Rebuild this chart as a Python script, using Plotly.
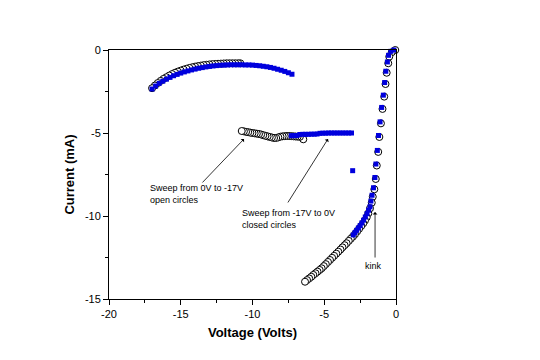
import plotly.graph_objects as go

# ---- Sweep from 0V to -17V (open circles) ----
open_x = [
    -0.05, -0.30, -0.47, -0.54, -0.65, -0.73, -0.82, -0.94, -1.05, -1.16, -1.24, -1.34,
    -1.41, -1.51, -1.62, -1.69, -1.81, -1.93, -2.04, -2.16, -2.28, -2.42, -2.57, -2.71,
    -2.86, -3.00, -3.15, -3.29, -3.44, -3.58, -3.73, -3.87, -4.02, -4.16, -4.31, -4.45,
    -4.60, -4.74, -4.89, -5.03, -5.18, -5.32, -5.47, -5.61, -5.76, -5.90, -6.05, -6.20,
    -6.34,
    -6.46, -6.70, -6.85, -7.00, -7.15, -7.30, -7.45, -7.60, -7.75, -7.90, -8.05, -8.20,
    -8.35, -8.50, -8.65, -8.80, -8.95, -9.10, -9.25, -9.40, -9.55, -9.70, -9.85, -10.00,
    -10.15, -10.30, -10.45, -10.60, -10.75,
    -10.85, -11.00, -11.20, -11.40, -11.60, -11.80, -12.00, -12.20, -12.40, -12.60, -12.80,
    -13.00, -13.20, -13.40, -13.60, -13.80, -14.00, -14.20, -14.40, -14.60, -14.80, -15.00,
    -15.20, -15.40, -15.60, -15.80, -16.00, -16.20, -16.40, -16.60, -16.80, -17.00,
]
open_y = [
    0.00, -0.14, -0.40, -0.80, -1.37, -2.05, -2.81, -3.55, -4.42, -5.24, -6.14, -6.96,
    -7.77, -8.39, -8.84, -9.20, -9.54, -9.84, -10.08, -10.27, -10.44, -10.60, -10.77, -10.93,
    -11.10, -11.24, -11.37, -11.50, -11.64, -11.76, -11.89, -12.02, -12.15, -12.27, -12.40, -12.52,
    -12.65, -12.77, -12.90, -13.02, -13.15, -13.25, -13.35, -13.45, -13.55, -13.66, -13.76, -13.86,
    -13.96,
    -5.38, -5.23, -5.22, -5.21, -5.20, -5.19, -5.18, -5.18, -5.19, -5.20, -5.22, -5.26,
    -5.30, -5.30, -5.27, -5.24, -5.20, -5.17, -5.13, -5.09, -5.06, -5.04, -5.02, -5.00,
    -4.98, -4.95, -4.93, -4.90, -4.88,
    -0.80, -0.80, -0.80, -0.80, -0.80, -0.80, -0.81, -0.82, -0.83, -0.84, -0.85,
    -0.87, -0.89, -0.91, -0.94, -0.97, -1.00, -1.04, -1.08, -1.13, -1.18, -1.24,
    -1.30, -1.37, -1.45, -1.54, -1.64, -1.74, -1.86, -1.99, -2.14, -2.30,
]

# ---- Sweep from -17V to 0V (closed circles) ----
closed_x = [
    -17.00, -16.75, -16.50, -16.25, -16.00, -15.75, -15.50, -15.25, -15.00, -14.75,
    -14.50, -14.25, -14.00, -13.75, -13.50, -13.25, -13.00, -12.75, -12.50, -12.25,
    -12.00, -11.75, -11.50, -11.25, -11.00, -10.75, -10.50, -10.25, -10.00, -9.75,
    -9.50, -9.25, -9.00, -8.75, -8.50, -8.25, -8.00, -7.75, -7.50, -7.25,
    -7.30, -7.10, -6.90, -6.70, -6.50, -6.30, -6.10, -5.90, -5.70, -5.50, -5.30,
    -5.10, -4.90, -4.70, -4.50, -4.30, -4.10, -3.90, -3.70, -3.50, -3.30, -3.10,
    -3.02,
    -2.98, -2.86, -2.74, -2.62, -2.50, -2.38, -2.26, -2.14, -2.02, -1.91, -1.81,
    -1.75, -1.67, -1.57, -1.47, -1.40, -1.30, -1.22, -1.11, -1.00, -0.88, -0.79,
    -0.71, -0.60, -0.52, -0.36, -0.15,
]
closed_y = [
    -2.35, -2.17, -2.01, -1.88, -1.76, -1.65, -1.55, -1.47, -1.39, -1.32,
    -1.26, -1.20, -1.15, -1.10, -1.06, -1.02, -0.99, -0.96, -0.94, -0.92,
    -0.91, -0.90, -0.89, -0.89, -0.89, -0.89, -0.90, -0.90, -0.91, -0.93,
    -0.95, -0.98, -1.01, -1.05, -1.10, -1.16, -1.22, -1.29, -1.37, -1.46,
    -5.16, -5.16, -5.15, -5.09, -5.08, -5.08, -5.08, -5.07, -5.07, -5.06, -5.02,
    -5.01, -5.01, -5.00, -5.00, -5.00, -5.00, -5.00, -5.00, -5.00, -5.00, -5.00,
    -7.27,
    -11.14, -11.00, -10.86, -10.72, -10.58, -10.42, -10.25, -10.06, -9.86, -9.65, -9.44,
    -9.10, -8.75, -8.30, -7.68, -6.87, -6.05, -5.15, -4.33, -3.46, -2.72, -1.96,
    -1.28, -0.72, -0.32, -0.08, 0.00,
]

x_ticks = [-20, -15, -10, -5, 0]
y_ticks = [0, -5, -10, -15]

FONT = "Liberation Sans, Arial, sans-serif"
BLUE = "#0000dd"

fig = go.Figure()
fig.add_trace(go.Scatter(
    x=open_x, y=open_y, mode="markers", cliponaxis=False,
    marker=dict(symbol="circle", size=7, color="white", line=dict(color="black", width=1)),
    showlegend=False,
))
fig.add_trace(go.Scatter(
    x=closed_x, y=closed_y, mode="markers", cliponaxis=False,
    marker=dict(symbol="square", size=5, color=BLUE, line=dict(width=0)),
    showlegend=False,
))

arrow_style = dict(showarrow=True, arrowhead=1, arrowsize=1, arrowwidth=0.8,
                   arrowcolor="black", text="", standoff=0)
fig.add_annotation(x=-10.59, y=-5.36, ax=-43, ay=45, **arrow_style)
fig.add_annotation(x=-4.74, y=-5.36, ax=-41, ay=65, **arrow_style)
fig.add_annotation(x=-1.46, y=-9.76, ax=0, ay=47, **arrow_style)

text_font = dict(family=FONT, size=9, color="black")
fig.add_annotation(x=-17.28, y=-8.7, text="Sweep from 0V to -17V<br>open circles",
                   showarrow=False, xanchor="left", yanchor="middle", align="left", font=text_font)
fig.add_annotation(x=-10.87, y=-10.21, text="Sweep from -17V to 0V<br>closed circles",
                   showarrow=False, xanchor="left", yanchor="middle", align="left", font=text_font)
fig.add_annotation(x=-1.55, y=-13.01, text="kink",
                   showarrow=False, xanchor="center", yanchor="middle", font=text_font)

axis_common = dict(
    showline=True, linecolor="black", linewidth=1, mirror=True,
    ticks="outside", ticklen=5, tickwidth=1, tickcolor="black",
    showgrid=False, zeroline=False,
    tickfont=dict(family=FONT, size=11, color="black"),
)
fig.update_xaxes(
    range=[-20, 0], tickvals=x_ticks, ticktext=[str(v) for v in x_ticks],
    minor=dict(ticks="outside", ticklen=3, dtick=2.5, tick0=0, tickcolor="black", showgrid=False),
    title=dict(text="<b>Voltage (Volts)</b>", font=dict(family=FONT, size=13, color="black"), standoff=8),
    **axis_common,
)
fig.update_yaxes(
    range=[-15, 0], tickvals=y_ticks, ticktext=[str(v) for v in y_ticks],
    minor=dict(ticks="outside", ticklen=3, dtick=2.5, tick0=0, tickcolor="black", showgrid=False),
    title=dict(text="<b>Current (mA)</b>", font=dict(family=FONT, size=13, color="black"), standoff=7),
    **axis_common,
)
fig.update_layout(
    width=540, height=360,
    margin=dict(l=101, r=152, t=42, b=69),
    paper_bgcolor="white", plot_bgcolor="white",
    showlegend=False,
)
fig.write_html("out.html")
